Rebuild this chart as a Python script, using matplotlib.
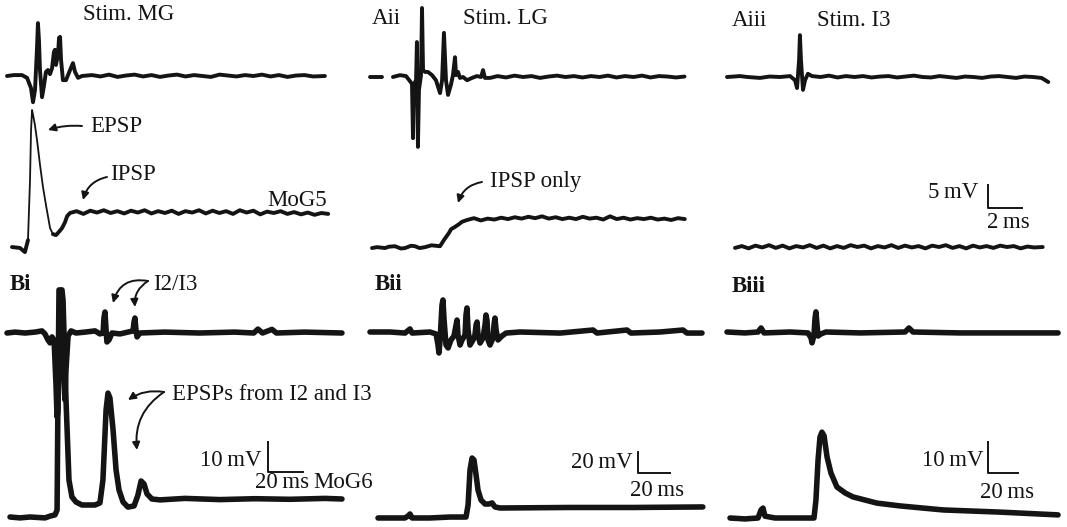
import matplotlib
matplotlib.use('Agg')
import matplotlib.pyplot as plt
import numpy as np

# ---------------- data: (time ms, voltage mV) ----------------
AI_TOP = [(0, 0), (0.41, 0.2), (0.88, 0.2), (1.18, -0.4), (1.41, -2.6), (1.53, -5.7), (1.65, -3.0),
          (1.76, 5.7), (1.82, 11.5), (1.88, 7.8), (1.94, 1.3), (2.06, -4.6), (2.18, -2.0), (2.29, 0.9),
          (2.41, 1.3), (2.53, 0.4), (2.65, 1.7), (2.76, 5.2), (2.82, 5.7), (2.88, 2.4), (3.00, 4.6),
          (3.06, 8.3), (3.12, 8.5), (3.18, 3.5), (3.29, -0.9), (3.47, -0.9), (3.71, 1.3), (3.88, 2.8),
          (4.0, 0.9), (4.18, -0.4), (4.41, 0), (5.0, 0.2), (5.5, -0.1), (6.0, 0.3), (6.5, -0.2),
          (7.0, 0.1), (7.5, 0.3), (8.0, -0.1), (8.5, 0.2), (9.0, -0.2), (9.5, 0.1), (10.0, 0.3),
          (10.5, -0.1), (11.0, 0.2), (11.5, 0), (12.0, -0.2), (12.5, 0.3), (13.0, 0.1), (13.5, -0.1),
          (14.0, 0.2), (14.5, 0), (15.0, 0.3), (15.5, -0.1), (16.0, 0.2), (16.5, -0.2), (17.0, 0.1),
          (17.5, 0.2), (18.0, -0.1), (18.7, 0)]
AI_BOT = [(0, -7.4), (0.47, -7.6), (0.76, -8.5), (0.94, -5.9), (1.06, 7.2), (1.12, 18.0), (1.18, 22.4),
          (1.24, 21.3), (1.35, 19.1), (1.47, 15.9), (1.65, 10.4), (1.82, 5.7), (2.0, 1.7), (2.24, -3.3),
          (2.41, -4.6), (2.59, -4.8), (2.76, -4.1), (2.94, -3.3), (3.12, -2.0), (3.24, -0.7), (3.41, 0),
          (3.8, 0.4), (4.2, -0.2), (4.6, 0.5), (5.0, 0.1), (5.4, 0.6), (5.8, 0.0), (6.2, 0.4), (6.6, -0.1),
          (7.0, 0.5), (7.4, 0.1), (7.8, 0.6), (8.2, -0.1), (8.6, 0.4), (9.0, 0.0), (9.4, 0.5), (9.8, -0.2),
          (10.2, 0.4), (10.6, 0.1), (11.0, 0.6), (11.4, -0.1), (11.8, 0.5), (12.2, 0.0), (12.6, 0.4),
          (13.0, -0.2), (13.4, 0.6), (13.8, 0.1), (14.2, 0.5), (14.6, -0.3), (15.0, 0.3), (15.4, 0.0),
          (15.8, 0.4), (16.2, -0.2), (16.6, 0.2), (17.0, -0.3), (17.4, 0.1), (17.8, -0.4), (18.2, 0.0),
          (18.6, -0.2)]
AII_TOP_DASH = [(0, 0), (0.7, 0)]
AII_TOP = [(1.35, 0), (1.76, 0.4), (2.12, 0.2), (2.35, -0.9), (2.47, -1.5), (2.53, -13.3), (2.59, -1.5),
           (2.71, -0.7), (2.76, 7.6), (2.82, -15.2), (2.88, -2.8), (3.0, 0.4), (3.06, 15.0), (3.12, 1.5),
           (3.24, 1.1), (3.41, 1.1), (3.65, 0.4), (3.88, -0.7), (4.12, -3.5), (4.24, -0.7), (4.35, 9.6),
           (4.47, -0.7), (4.59, -3.9), (4.76, -1.7), (4.88, 0.4), (5.0, 4.3), (5.06, 0.4), (5.18, 1.1),
           (5.29, -0.2), (5.47, 0), (5.71, -0.7), (6.0, -0.2), (6.29, 0.2), (6.53, 0), (6.65, 1.5),
           (6.76, -0.2), (7.06, -0.2), (7.5, 0.2), (8.0, -0.1), (8.5, 0.3), (9.0, 0), (9.5, 0.2),
           (10.0, -0.2), (10.5, 0.1), (11.0, 0.3), (11.5, 0), (12.0, 0.2), (12.5, -0.1), (13.0, 0.2),
           (13.5, 0), (14.0, 0.3), (14.5, -0.1), (15.0, 0.2), (15.5, 0), (16.0, 0.3), (16.5, -0.1),
           (17.0, 0.2), (17.5, 0.1), (18.0, -0.1), (18.5, 0.1)]
AII_BOT = [(0, -6.1), (0.3, -5.9), (0.76, -6.1), (1.0, -5.8), (1.35, -5.7), (1.7, -6.2), (1.94, -6.1),
           (2.3, -5.6), (2.53, -5.7), (2.8, -6.1), (3.12, -5.9), (3.5, -5.5), (4.0, -5.7), (4.24, -4.3),
           (4.53, -2.8), (4.65, -2.0), (4.88, -1.5), (5.12, -0.9), (5.29, -0.4), (5.59, 0), (6.0, 0.4),
           (6.4, -0.1), (6.8, 0.3), (7.2, 0.1), (7.6, 0.5), (8.0, 0.2), (8.4, 0.6), (8.8, 0.3), (9.2, 0.7),
           (9.6, 0.4), (10.0, 0.8), (10.4, 0.3), (10.8, 0.6), (11.2, 0.2), (11.6, 0.5), (12.0, 0.2),
           (12.4, 0.7), (12.8, 0.3), (13.2, 0.5), (13.6, 0.1), (14.0, 0.8), (14.4, 0.2), (14.8, 0.5),
           (15.2, 0.1), (15.6, 0.4), (16.0, 0.2), (16.4, 0.5), (16.8, 0.1), (17.2, 0.3), (17.6, 0.0),
           (18.0, 0.4), (18.4, 0.2)]
AIII_TOP = [(0, 0), (0.4, 0.1), (0.76, 0.2), (1.2, 0), (1.94, -0.2), (2.5, 0.1), (3.12, 0), (3.71, 0.2),
            (4.0, -0.7), (4.12, -2.4), (4.24, 3.7), (4.29, 9.1), (4.35, 3.7), (4.47, -2.8), (4.59, -0.7),
            (4.76, 0.7), (5.0, 0.2), (5.5, 0), (6.0, 0.3), (6.5, -0.1), (7.0, 0.2), (7.5, 0), (8.0, 0.2),
            (8.5, -0.1), (9.0, 0.1), (9.5, 0.2), (10, -0.1), (10.5, 0.1), (11, 0.3), (11.5, 0), (12, -0.1),
            (12.5, 0.2), (13, 0), (13.5, -0.2), (14, 0.1), (14.5, 0), (15, -0.2), (15.5, 0.1), (16, 0.2),
            (16.5, 0), (17, -0.2), (17.5, 0.1), (18.0, 0), (18.5, -0.2), (18.9, -1.1)]
AIII_BOT = [(0, -0.2), (0.4, 0.2), (0.8, -0.3), (1.2, 0.3), (1.6, -0.1), (2.0, 0.4), (2.4, -0.2), (2.8, 0.3),
            (3.2, -0.3), (3.6, 0.2), (4.0, -0.1), (4.4, 0.4), (4.8, -0.2), (5.2, 0.3), (5.6, -0.3), (6.0, 0.2),
            (6.4, -0.2), (6.8, 0.4), (7.2, 0.0), (7.6, 0.3), (8.0, -0.3), (8.4, 0.2), (8.8, -0.1), (9.2, 0.4),
            (9.6, -0.2), (10.0, 0.3), (10.4, -0.1), (10.8, 0.2), (11.2, -0.3), (11.6, 0.3), (12.0, 0.0),
            (12.4, 0.4), (12.8, -0.2), (13.2, 0.2), (13.6, -0.3), (14.0, 0.3), (14.4, -0.1), (14.8, 0.2),
            (15.2, -0.2), (15.6, 0.3), (16.0, 0.0), (16.4, 0.2), (16.8, -0.3), (17.2, 0.1), (17.6, -0.1),
            (18.1, 0.0)]
BI_TOP = [(0, 0), (4.6, 0.3), (10.3, 0), (16, 0.3), (20, 0.7), (21.7, -0.3), (23.4, -2.3), (24.6, -3.3),
          (25.7, -1.3), (26.9, -2.3), (28.0, -17.3), (28.6, -28), (29.1, -26.3), (30.3, 11), (30.9, 13.7),
          (31.4, 11.7), (32.6, -15.7), (33.1, -22.3), (33.7, -12.3), (34.9, -1), (36.6, 0.7), (39.4, 0),
          (44.6, 0.3), (50.3, 0.7), (53.1, -0.3), (54.9, 0), (55.4, 5), (56.0, 7), (56.6, 1), (57.1, -3),
          (58.3, -2.3), (60, 0), (64.6, -0.3), (69.1, 0.3), (72, 0.7), (72.6, 3.7), (73.1, 5), (73.7, 1),
          (74.3, -1.3), (76, 0), (90, 0.3), (110, 0), (130, 0.3), (141, 0), (143.4, 1.3), (146, 0),
          (151.4, 1.2), (154, 0), (170, 0.3), (191.4, 0)]
BI_BOT = [(0, -6.0), (5.7, -6.3), (11.4, -6.0), (20, -6.3), (22.9, -5.7), (25.7, -5.3), (26.9, -3.7),
          (27.4, 33), (28.0, 69.7), (29.7, 69.7), (30.3, 66.3), (32.0, 33), (33.7, 6.3), (35.4, 0.7),
          (37.7, -1.0), (41.1, -2.0), (48.6, -2.0), (51.4, -1.3), (53.1, 6.3), (54.9, 29.7), (56.0, 35.3),
          (57.1, 33.7), (58.9, 23), (60.6, 9.7), (62.3, 3), (64.6, -1), (67.4, -2.7), (70.9, -2.3),
          (73.1, 1.3), (74.9, 6), (76.6, 5), (78.3, 1.7), (81.1, 0), (85.7, -0.3), (100, 0.2), (120, -0.2),
          (140, 0.1), (160, -0.1), (180, 0.2), (189.7, 0)]
BII_TOP = [(0, 0), (12.5, 0), (21.9, -1), (25, 2.9), (26.3, -1), (37.5, 0), (41.3, -1.9), (42.5, -12.4),
           (43.1, -20), (43.8, -7.6), (45, 25.7), (45.6, 30.5), (46.3, 11.4), (47.5, -12.4), (48.8, -15.2),
           (50.6, -7.6), (52.5, -3.8), (53.8, 6.7), (54.4, 11.4), (55, -2.9), (56.3, -12.4), (57.5, -7.6),
           (59.4, -2.9), (60, 16.2), (60.6, 22.9), (61.3, 1.9), (62.5, -12.4), (64.4, -7.6), (65.6, -2.9),
           (66.3, 6.7), (66.9, 9.5), (67.5, -2.9), (68.8, -10.5), (70.6, -5.7), (71.9, 6.7), (72.5, 16.2),
           (73.1, 11.4), (73.8, -7.6), (75, -12.4), (76.9, -5.7), (77.5, 6.7), (78.1, 13.3), (78.8, 1.9),
           (80, -7.6), (82.5, -3.8), (85, -1), (93.8, 0), (118.8, -1), (139.4, 1.9), (141.9, -1),
           (160.6, 1.9), (163.1, -1), (181.3, 0), (195.6, 1.9), (198.1, -1), (207.5, -1)]
BII_BOT = [(0, -9.5), (7.5, -9.5), (16.9, -9.5), (18.8, -7.6), (20, -5.7), (21.3, -9.5), (32.5, -9.5),
           (45, -8.6), (55, -8.6), (56.3, 2.9), (57.5, 36.2), (58.8, 47.6), (60, 45.7), (61.3, 31.4),
           (62.5, 17.1), (64.4, 7.6), (66.9, 3.8), (69.4, 3.8), (71.3, 4.8), (73.1, 1), (76.3, 0),
           (120, 0.5), (160, 0.5), (203, 1)]
BIII_TOP = [(0, 0), (12, -0.3), (20.7, 0), (22.7, 1.3), (24.7, -0.3), (42, 0), (54, -0.3), (56, -1.9),
            (56.7, -3.5), (58, -1), (58.7, 4.5), (59.3, 6.5), (60, 2.3), (60.7, -1.3), (62.7, -0.6), (66, 0),
            (88.7, -0.3), (118.7, 0), (121.3, 1.3), (124, 0), (155.3, -0.3), (195.3, -0.3), (220.7, -0.3)]
BIII_BOT = [(0, 0), (10, -0.3), (18.7, 0), (20.7, 2.6), (22, 3.2), (23.3, 0.6), (30, 0), (46.7, 0), (56, 0),
            (57.3, 5.8), (58.7, 18.7), (60, 26.1), (61.3, 27.7), (62.7, 26.5), (64.7, 19.7), (67.3, 14.5),
            (71.3, 10), (76.7, 8.1), (82, 6.8), (90, 5.8), (98, 4.8), (113.3, 3.9), (142, 2.6), (180, 1.9),
            (218.7, 1.0)]

# scale bars: (mV, ms)
SCALE_A = (5, 2)
SCALE_B = [(10, 20), (20, 20), (10, 20)]

# ---------------- layout ----------------
W, H = 1067, 527
fig = plt.figure(figsize=(W / 100, H / 100), dpi=100)
INK = '#141414'
FONT = ['Liberation Serif', 'DejaVu Serif']
FS = 16.5
TS = '\u2009'  # thin space used in unit labels


def trace_axes(x0, y0, sx, sy):
    """Transparent full-figure axes: t=0 at pixel x0, v=0 at pixel row y0; sx px/ms, sy px/mV."""
    ax = fig.add_axes([0, 0, 1, 1], frameon=False)
    ax.set_xlim(-x0 / sx, (W - x0) / sx)
    ax.set_ylim((y0 - H) / sy, y0 / sy)
    ax.axis('off')
    return ax


def draw(ax, pts, lw):
    t, v = np.array(pts).T
    ax.plot(t, v, color=INK, lw=lw, solid_capstyle='round', solid_joinstyle='round')


def scalebar(ax, t0, v0, mv, ms):
    ax.plot([t0, t0, t0 + ms], [v0 + mv, v0, v0], color=INK, lw=1.4)


LWA = 2.8
LWB = 4.0

# Ai
ax = trace_axes(7, 76, 17, 4.6); draw(ax, AI_TOP, LWA)
ax = trace_axes(12, 213, 17, 4.6)
t, v = np.array(AI_BOT).T
fast = (t >= 0.94) & (t <= 2.41)
ax.plot(t[t <= 0.94], v[t <= 0.94], color=INK, lw=LWA, solid_capstyle='round')
ax.plot(t[fast], v[fast], color=INK, lw=1.3)
ax.plot(t[t >= 2.41], v[t >= 2.41], color=INK, lw=LWA, solid_capstyle='round')

# Aii
ax = trace_axes(370, 77, 17, 4.6); draw(ax, AII_TOP_DASH, LWA); draw(ax, AII_TOP, LWA)
ax = trace_axes(372, 220, 17, 4.6); draw(ax, AII_BOT, LWA)

# Aiii
ax = trace_axes(727, 77, 17, 4.6); draw(ax, AIII_TOP, LWA)
ax = trace_axes(735, 247, 17, 4.6); draw(ax, AIII_BOT, LWA)
scalebar(ax, 14.9, 8.5, *SCALE_A)

# Bi
ax = trace_axes(7, 333, 1.75, 3.0); draw(ax, BI_TOP, LWB)
ax = trace_axes(10, 499, 1.75, 3.0); draw(ax, BI_BOT, LWB)
scalebar(ax, 147.4, 9.0, *SCALE_B[0])

# Bii
ax = trace_axes(370, 332, 1.6, 1.05); draw(ax, BII_TOP, LWB)
ax = trace_axes(378, 508, 1.6, 1.05); draw(ax, BII_BOT, LWB)
scalebar(ax, 162.5, 33.3, *SCALE_B[1])

# Biii
ax = trace_axes(727, 332, 1.5, 3.1); draw(ax, BIII_TOP, LWB)
ax = trace_axes(730, 518, 1.5, 3.1); draw(ax, BIII_BOT, LWB)
scalebar(ax, 172, 14.5, *SCALE_B[2])

# ---------------- text & arrows (pixel coordinates) ----------------
tx = fig.add_axes([0, 0, 1, 1], frameon=False)
tx.set_xlim(0, W); tx.set_ylim(H, 0); tx.axis('off')

labels = [
    ("Stim. MG", 83, 15, 'left', 'normal'),
    ("Aii", 372, 18, 'left', 'normal'),
    ("Stim. LG", 463, 18, 'left', 'normal'),
    ("Aiii", 732, 20, 'left', 'normal'),
    ("Stim. I3", 817, 20, 'left', 'normal'),
    ("EPSP", 90, 127, 'left', 'normal'),
    ("IPSP", 110, 175, 'left', 'normal'),
    ("MoG5", 267, 200, 'left', 'normal'),
    ("IPSP only", 490, 182, 'left', 'normal'),
    (f"5{TS}mV", 978, 193, 'right', 'normal'),
    (f"2{TS}ms", 987, 222, 'left', 'normal'),
    ("Bi", 10, 285, 'left', 'bold'),
    ("I2/I3", 153, 285, 'left', 'normal'),
    ("EPSPs from I2 and I3", 172, 395, 'left', 'normal'),
    (f"10{TS}mV", 261, 460, 'right', 'normal'),
    (f"20{TS}ms", 255, 482, 'left', 'normal'),
    ("MoG6", 313, 482, 'left', 'normal'),
    ("Bii", 375, 285, 'left', 'bold'),
    (f"20{TS}mV", 633, 463, 'right', 'normal'),
    (f"20{TS}ms", 630, 490, 'left', 'normal'),
    ("Biii", 732, 287, 'left', 'bold'),
    (f"10{TS}mV", 983, 460, 'right', 'normal'),
    (f"20{TS}ms", 980, 492, 'left', 'normal'),
]
for s, x, y, ha, wt in labels:
    tx.text(x, y, s, ha=ha, va='center', fontsize=FS, family=FONT, fontweight=wt, color=INK)

arrows = [
    ((82, 126), (48, 130), 0.1),
    ((107, 177), (83, 200), 0.3),
    ((482, 182), (458, 203), 0.3),
    ((148, 281), (113, 303), 0.45),
    ((148, 281), (135, 307), 0.3),
    ((164, 392), (128, 400), 0.2),
    ((164, 392), (137, 450), 0.3),
]
for (x1, y1), (x2, y2), rad in arrows:
    tx.annotate('', xy=(x2, y2), xytext=(x1, y1),
                arrowprops=dict(arrowstyle='-|>', color=INK, lw=1.4, mutation_scale=11,
                                shrinkA=0, shrinkB=0, connectionstyle=f'arc3,rad={rad}'))

fig.savefig('out.png', dpi=100, facecolor='white')
